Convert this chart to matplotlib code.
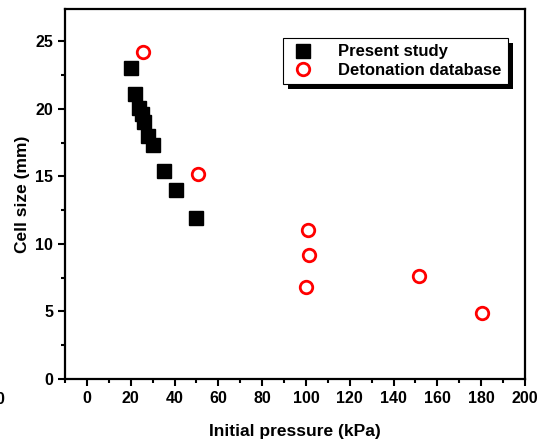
import matplotlib
matplotlib.use("Agg")
import matplotlib.pyplot as plt
from matplotlib.ticker import MultipleLocator
from matplotlib.patches import Rectangle
from matplotlib.transforms import IdentityTransform

present_p = [20, 22, 24, 25, 26, 28, 30, 35, 40.5, 50]
present_cell = [23.05, 21.1, 20.1, 19.6, 19.05, 18.0, 17.3, 15.4, 14.0, 11.9]

db_p = [25.5, 50.5, 101, 101.5, 100, 151.5, 180.5]
db_cell = [24.2, 15.2, 11.05, 9.2, 6.8, 7.65, 4.9]

plt.rcParams['font.family'] = ['Liberation Sans', 'DejaVu Sans']
plt.rcParams['font.weight'] = 'bold'

fig = plt.figure(figsize=(5.48, 4.41), dpi=100)
ax = fig.add_axes([65/548, 62/441, 460/548, 370/441])

ax.plot(present_p, present_cell, ls='none', marker='s', ms=9.5, color='black',
        label='Present study')
ax.plot(db_p, db_cell, ls='none', marker='o', ms=9, mfc='none', mec='red', mew=2,
        label='Detonation database')

ax.set_xlim(-10, 200)
ax.set_ylim(0, 27.4)
ax.xaxis.set_major_locator(MultipleLocator(20))
ax.xaxis.set_minor_locator(MultipleLocator(10))
ax.yaxis.set_major_locator(MultipleLocator(5))
ax.yaxis.set_minor_locator(MultipleLocator(2.5))
ax.tick_params(which='major', direction='out', length=5, width=1.5, labelsize=11.5)
ax.tick_params(which='minor', direction='out', length=3, width=1.5)
for lab in ax.get_xticklabels() + ax.get_yticklabels():
    lab.set_fontweight('bold')
for s in ax.spines.values():
    s.set_linewidth(1.6)

ax.set_xlabel('Initial pressure (kPa)', fontsize=12.5, fontweight='bold', labelpad=13)
ax.set_ylabel('Cell size (mm)', fontsize=12.5, fontweight='bold', labelpad=4)

leg = ax.legend(loc='upper left', bbox_to_anchor=(0.455, 0.945), frameon=True,
                fancybox=False, shadow=False,
                edgecolor='black', fontsize=12, borderpad=0.4, handletextpad=1.3,
                labelspacing=0.2, handlelength=1.6, framealpha=1)
leg.get_frame().set_linewidth(0.8)
for t in leg.get_texts():
    t.set_fontweight('bold')

fig.text(0.0, 42/441, '0', ha='center', va='center', fontsize=11.5, fontweight='bold')

fig.canvas.draw()
bb = leg.get_window_extent()
ax.add_patch(Rectangle((bb.x0 + 5, bb.y0 - 5), bb.width, bb.height,
                       transform=IdentityTransform(), facecolor='black',
                       edgecolor='none', zorder=4.9, clip_on=False))

fig.savefig('out.png', dpi=100)
